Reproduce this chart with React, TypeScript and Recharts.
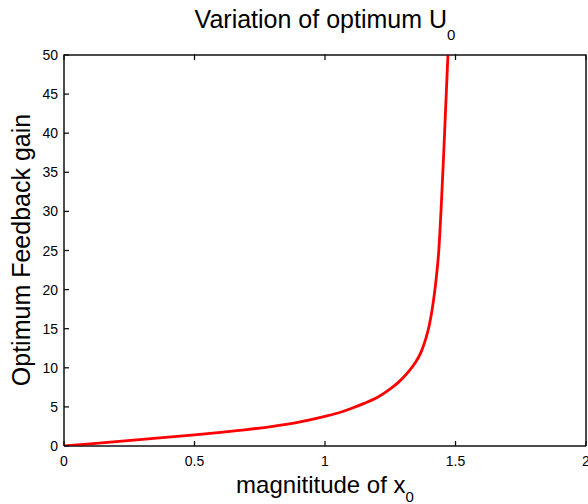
import { Line, LineChart, ReferenceArea, XAxis, YAxis } from "recharts"

// magnitude of x0 vs optimum feedback gain
const magnitude = [
  0, 0.1, 0.2, 0.3, 0.4, 0.5, 0.6, 0.7, 0.8, 0.9, 1.0, 1.05, 1.1, 1.15, 1.2,
  1.25, 1.28, 1.3, 1.32, 1.345, 1.368, 1.385, 1.4, 1.414, 1.427, 1.436, 1.445,
  1.454, 1.462, 1.471,
]
const gain = [
  0, 0.28, 0.56, 0.84, 1.13, 1.43, 1.75, 2.1, 2.52, 3.05, 3.78, 4.22, 4.8, 5.45,
  6.2, 7.3, 8.1, 8.75, 9.5, 10.6, 12.0, 13.6, 15.5, 18.2, 21.7, 25.0, 30.4, 36.8,
  43.0, 50,
]

const xTicks = [0, 0.5, 1, 1.5, 2]
const yTicks = [0, 5, 10, 15, 20, 25, 30, 35, 40, 45, 50]

const data = magnitude.map((x, i) => ({ x, gain: gain[i] }))

const font = "'Liberation Sans', Arial, Helvetica, sans-serif"
const INK = "#111"
const TICK = 5

// MATLAB style: tick marks point into the plot box
const BottomTick = ({ x, y, payload }: any) => (
  <g>
    <line x1={x} x2={x} y1={y - 9} y2={y - 9 - TICK} stroke={INK} strokeWidth={1.3} />
    <text x={x} y={y} dy="0.75em" textAnchor="middle" fontSize={14} fontFamily={font} fill="#000">
      {payload.value}
    </text>
  </g>
)

const LeftTick = ({ x, y, payload }: any) => (
  <g>
    <line x1={x + 6} x2={x + 6 + TICK} y1={y} y2={y} stroke={INK} strokeWidth={1.3} />
    <text x={x} y={y} dy="0.36em" textAnchor="end" fontSize={14} fontFamily={font} fill="#000">
      {payload.value}
    </text>
  </g>
)

const TopTick = ({ x, y }: any) => (
  <line x1={x} x2={x} y1={y + 1} y2={y + 1 + TICK} stroke={INK} strokeWidth={1.3} />
)

const RightTick = ({ x, y }: any) => (
  <line x1={x - 1} x2={x - 1 - TICK} y1={y} y2={y} stroke={INK} strokeWidth={1.3} />
)

export default function App() {
  return (
    <div
      style={{
        position: "absolute",
        top: 0,
        left: 0,
        width: 588,
        height: 504,
        overflow: "hidden",
        background: "#fff",
      }}
    >
      <svg
        width={588}
        height={504}
        style={{ position: "absolute", top: 0, left: 0, pointerEvents: "none" }}
      >
        <text x={325} y={28} textAnchor="middle" fontSize={25} fontFamily={font} fill="#000">
          Variation of optimum U
          <tspan dy={12} fontSize={15}>0</tspan>
        </text>
        <text x={325} y={493} textAnchor="middle" fontSize={24} fontFamily={font} fill="#000">
          magnititude of x
          <tspan dy={9} fontSize={15}>0</tspan>
        </text>
        <text
          x={0}
          y={0}
          transform="translate(30,250) rotate(-90)"
          textAnchor="middle"
          fontSize={25}
          fontFamily={font}
          fill="#000"
        >
          Optimum Feedback gain
        </text>
      </svg>
      <LineChart
        width={606}
        height={504}
        data={data}
        margin={{ top: 35, right: 0, bottom: 28, left: 24 }}
      >
        <XAxis
          xAxisId="bottom"
          dataKey="x"
          type="number"
          domain={[0, 2]}
          ticks={xTicks}
          interval={0}
          height={30}
          tick={BottomTick}
          tickLine={false}
          tickSize={1}
          tickMargin={8}
          stroke={INK}
        />
        <XAxis
          xAxisId="top"
          orientation="top"
          dataKey="x"
          type="number"
          domain={[0, 2]}
          ticks={xTicks}
          interval={0}
          height={20}
          tick={TopTick}
          tickSize={1}
          tickMargin={0}
          stroke={INK}
        />
        <YAxis
          yAxisId="left"
          type="number"
          domain={[0, 50]}
          ticks={yTicks}
          interval={0}
          width={40}
          tick={LeftTick}
          tickLine={false}
          tickSize={1}
          tickMargin={5}
          stroke={INK}
          allowDataOverflow
        />
        <YAxis
          yAxisId="right"
          orientation="right"
          type="number"
          domain={[0, 50]}
          ticks={yTicks}
          interval={0}
          width={20}
          tick={RightTick}
          tickSize={1}
          tickMargin={0}
          stroke={INK}
        />
        <ReferenceArea
          xAxisId="bottom"
          yAxisId="left"
          x1={0}
          x2={2}
          y1={0}
          y2={50}
          fill="none"
          fillOpacity={0}
          stroke={INK}
          strokeWidth={1}
          ifOverflow="visible"
        />
        <Line
          xAxisId="bottom"
          yAxisId="left"
          dataKey="gain"
          type="monotone"
          stroke="#ff0000"
          strokeWidth={2.8}
          dot={false}
          isAnimationActive={false}
        />
      </LineChart>
    </div>
  )
}
